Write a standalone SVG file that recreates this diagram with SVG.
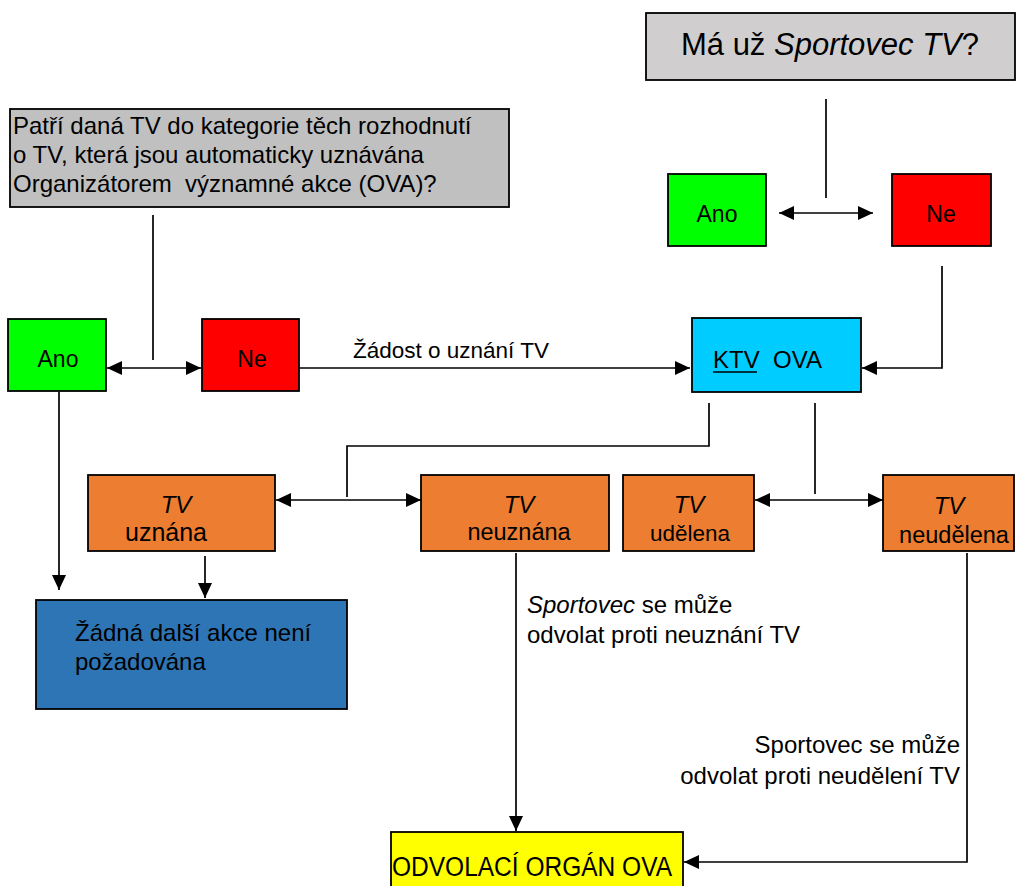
<svg xmlns="http://www.w3.org/2000/svg" width="1016" height="886" viewBox="0 0 1016 886">
<style>
text{font-family:"Liberation Sans",Arial,sans-serif;fill:#000;white-space:pre}
.box{stroke:#000;stroke-width:1.8}
.c{fill:none;stroke:#000;stroke-width:1.7}
.i{font-style:italic}
</style>
<defs>
<marker id="ah" viewBox="0 0 15 14" refX="15" refY="7" markerWidth="15" markerHeight="14" markerUnits="userSpaceOnUse" orient="auto-start-reverse">
<path d="M0,0 L15,7 L0,14 z" fill="#000"/>
</marker>
</defs>
<rect width="1016" height="886" fill="#fff"/>
<g id="connectors">
<line class="c" x1="826" y1="99" x2="826" y2="198"/>
<line class="c" x1="779" y1="213" x2="873" y2="213" marker-start="url(#ah)" marker-end="url(#ah)"/>
<line class="c" x1="153" y1="215" x2="153" y2="360"/>
<line class="c" x1="107" y1="368" x2="201" y2="368" marker-start="url(#ah)" marker-end="url(#ah)"/>
<line class="c" x1="299" y1="368" x2="690" y2="368" marker-end="url(#ah)"/>
<polyline class="c" points="942,266 942,368 862,368" marker-end="url(#ah)"/>
<polyline class="c" points="709,403 709,446 347,446 347,497"/>
<line class="c" x1="276" y1="500" x2="421" y2="500" marker-start="url(#ah)" marker-end="url(#ah)"/>
<line class="c" x1="815" y1="403" x2="815" y2="494"/>
<line class="c" x1="755" y1="500" x2="883" y2="500" marker-start="url(#ah)" marker-end="url(#ah)"/>
<line class="c" x1="59" y1="392" x2="59" y2="590" marker-end="url(#ah)"/>
<line class="c" x1="205" y1="556" x2="205" y2="598" marker-end="url(#ah)"/>
<line class="c" x1="516" y1="553" x2="516" y2="831" marker-end="url(#ah)"/>
<polyline class="c" points="967,553 967,862 684,862" marker-end="url(#ah)"/>
</g>
<g id="q-sportovec">
<rect class="box" x="646" y="13" width="369" height="67" fill="#d0cecf"/>
<text x="830" y="55" font-size="31" text-anchor="middle">Má už <tspan class="i">Sportovec TV</tspan>?</text>
</g>
<g id="ano-right">
<rect class="box" x="668" y="174" width="98" height="72" fill="#00ff00"/>
<text x="717" y="222" font-size="23" text-anchor="middle">Ano</text>
</g>
<g id="ne-right">
<rect class="box" x="892" y="174" width="99" height="72" fill="#ff0000"/>
<text x="941" y="222" font-size="23" text-anchor="middle">Ne</text>
</g>
<g id="q-kategorie">
<rect class="box" x="10" y="109" width="499" height="98" fill="#c0c0c0"/>
<text x="13" y="134" font-size="24">Patří daná TV do kategorie těch rozhodnutí</text>
<text x="13" y="163" font-size="24">o TV, která jsou automaticky uznávána</text>
<text x="13" y="192" font-size="24">Organizátorem  významné akce (OVA)?</text>
</g>
<g id="ano-left">
<rect class="box" x="8" y="319" width="98" height="72" fill="#00ff00"/>
<text x="58" y="367" font-size="23" text-anchor="middle">Ano</text>
</g>
<g id="ne-left">
<rect class="box" x="202" y="319" width="97" height="72" fill="#ff0000"/>
<text x="252" y="367" font-size="23" text-anchor="middle">Ne</text>
</g>
<g id="label-zadost">
<text x="353" y="358" font-size="22.5">Žádost o uznání TV</text>
</g>
<g id="ktv-ova">
<rect class="box" x="692" y="318" width="169" height="74" fill="#00ccff"/>
<text x="713" y="368" font-size="24">KTV  OVA</text>
<line x1="713" y1="372" x2="757" y2="372" stroke="#000" stroke-width="1.5"/>
</g>
<g id="tv-uznana">
<rect class="box" x="88" y="475" width="187" height="76" fill="#ed7d31"/>
<text x="176" y="513" font-size="24" text-anchor="middle" class="i">TV</text>
<text x="166" y="541" font-size="25" text-anchor="middle">uznána</text>
</g>
<g id="tv-neuznana">
<rect class="box" x="421" y="475" width="188" height="76" fill="#ed7d31"/>
<text x="519" y="513" font-size="24" text-anchor="middle" class="i">TV</text>
<text x="519" y="540" font-size="23.5" text-anchor="middle">neuznána</text>
</g>
<g id="tv-udelena">
<rect class="box" x="623" y="475" width="131" height="76" fill="#ed7d31"/>
<text x="689" y="513" font-size="24" text-anchor="middle" class="i">TV</text>
<text x="690" y="541" font-size="22.5" text-anchor="middle">udělena</text>
</g>
<g id="tv-neudelena">
<rect class="box" x="883" y="475" width="131" height="76" fill="#ed7d31"/>
<text x="949" y="514" font-size="24" text-anchor="middle" class="i">TV</text>
<text x="954" y="543" font-size="23.5" text-anchor="middle">neudělena</text>
</g>
<g id="zadna-akce">
<rect class="box" x="36" y="600" width="311" height="109" fill="#2e75b6"/>
<text x="75" y="641" font-size="24">Žádná další akce není</text>
<text x="75" y="670" font-size="24">požadována</text>
</g>
<g id="label-neuznani">
<text x="527" y="613" font-size="24"><tspan class="i">Sportovec</tspan> se může</text>
<text x="527" y="643" font-size="24">odvolat proti neuznání TV</text>
</g>
<g id="label-neudeleni">
<text x="960" y="753" font-size="24" text-anchor="end">Sportovec se může</text>
<text x="960" y="784" font-size="24" text-anchor="end">odvolat proti neudělení TV</text>
</g>
<g id="odvolaci-organ">
<rect class="box" x="391" y="832" width="292" height="60" fill="#ffff00"/>
<text x="392" y="876" font-size="27" textLength="280" lengthAdjust="spacingAndGlyphs">ODVOLACÍ ORGÁN OVA</text>
</g>
</svg>
